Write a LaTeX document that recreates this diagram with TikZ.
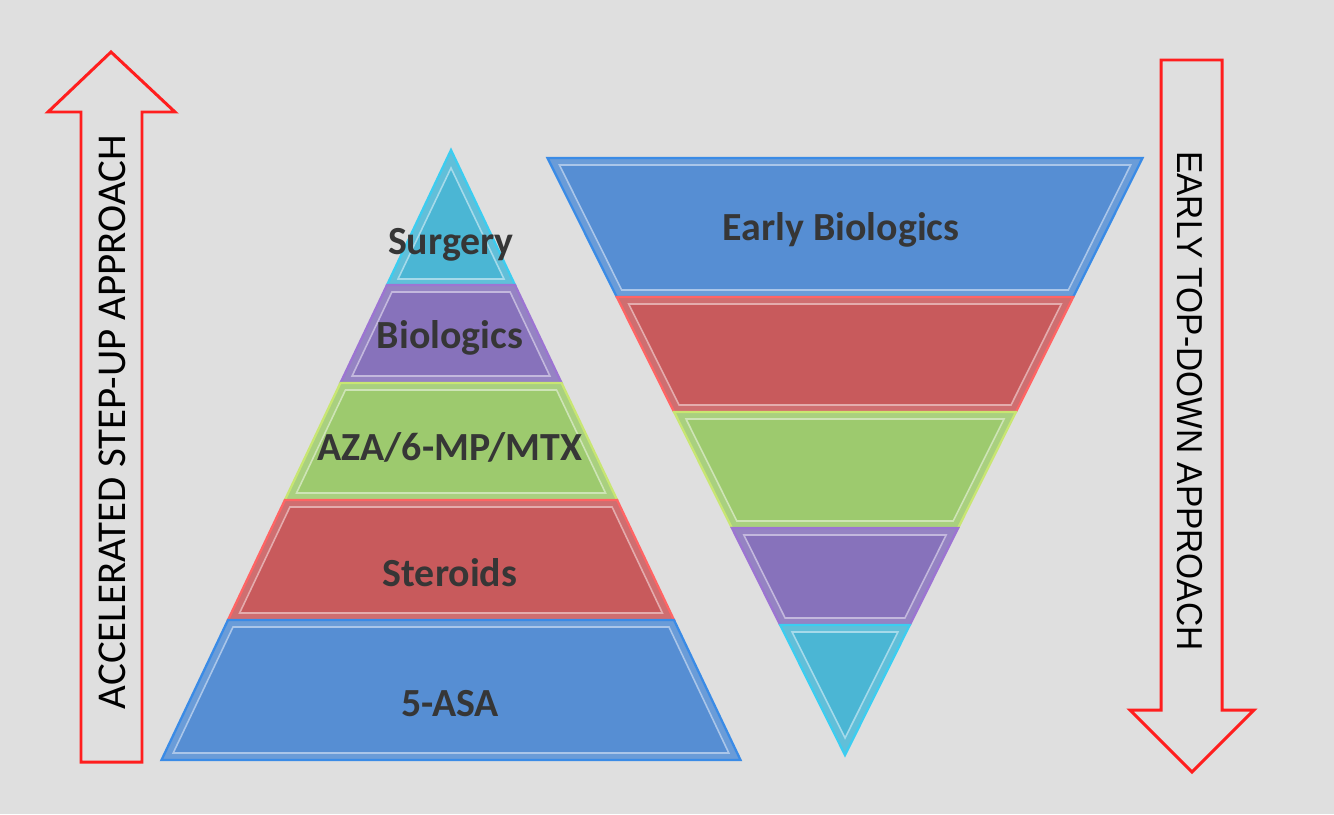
\documentclass[tikz,border=0pt]{standalone}
\usepackage{fontspec}
\setmainfont{Carlito}
\newfontfamily\narrowfont{Liberation Sans}
\usepackage{tikz}

\definecolor{bgcol}{HTML}{DFDFDF}
\definecolor{arrowred}{HTML}{FF1E1E}
\definecolor{txtgrey}{HTML}{363636}
\definecolor{asablue}{HTML}{568ED3}
\definecolor{asaedge}{HTML}{3A8BE6}
\definecolor{sterred}{HTML}{C85A5C}
\definecolor{steredge}{HTML}{FF6464}
\definecolor{azagreen}{HTML}{9DCA6E}
\definecolor{azaedge}{HTML}{C8E672}
\definecolor{biopurple}{HTML}{8772BB}
\definecolor{bioedge}{HTML}{9C74D2}
\definecolor{surgcyan}{HTML}{4BB6D4}
\definecolor{surgedge}{HTML}{3CCDF0}

\tikzset{
  layer/.style 2 args={fill=#1!88!white, draw=#2, line width=1.3pt, line join=miter},
  core/.style={fill=#1, draw=#1!50!white, line width=0.9pt},
  bigarrow/.style={draw=arrowred, line width=1.7pt, line join=miter},
  lbl/.style={text=txtgrey, font=\fontsize{22.7}{26}\selectfont\bfseries, inner sep=0pt},
  arrowlbl/.style={text=black, inner sep=0pt}
}

\begin{document}
\begin{tikzpicture}[x=0.02cm, y=-0.02cm]
  % Tlo
  \fill[bgcol] (0,0) rectangle (1334,814);
  \useasboundingbox (0,0) rectangle (1334,814);

  % Strzalka w gore (lewa)
  \draw[bigarrow] (81,762) -- (81,112) -- (48,112) -- (111,52) -- (175,112)
    -- (142,112) -- (142,762) -- cycle;
  \node[arrowlbl, rotate=90, font=\fontsize{23.3}{27}\selectfont] (stepup) at (112,422)
    {ACCELERATED STEP-UP APPROACH};

  % Strzalka w dol (prawa)
  \draw[bigarrow] (1161,60) -- (1222,60) -- (1222,710) -- (1254,710) -- (1192,772)
    -- (1130,710) -- (1161,710) -- cycle;
  \node[arrowlbl, rotate=-90] (topdown) at (1190,401)
    {\scalebox{0.93}[1]{\narrowfont\fontsize{20.5}{24}\selectfont EARLY TOP-DOWN APPROACH}};

  % Piramida (step-up)
  \draw[layer={surgcyan}{surgedge}] (451,150) -- (515,285) -- (387,285) -- cycle;
  \draw[core=surgcyan] (451,168) -- (504,279) -- (398,279) -- cycle;

  \draw[layer={biopurple}{bioedge}] (387,285) -- (515,285) -- (561.6,383) -- (340.4,383) -- cycle;
  \draw[core=biopurple] (391.9,292) -- (510.1,292) -- (549.9,376) -- (352.1,376) -- cycle;

  \draw[layer={azagreen}{azaedge}] (340.4,383) -- (561.6,383) -- (617.1,500) -- (284.9,500) -- cycle;
  \draw[core=azagreen] (345.4,390) -- (556.6,390) -- (605.5,493) -- (296.5,493) -- cycle;

  \draw[layer={sterred}{steredge}] (284.9,500) -- (617.1,500) -- (674,620) -- (228,620) -- cycle;
  \draw[core=sterred] (289.9,507) -- (612.1,507) -- (662.4,613) -- (239.6,613) -- cycle;

  \draw[layer={asablue}{asaedge}] (228,620) -- (674,620) -- (740.5,760) -- (161.5,760) -- cycle;
  \draw[core=asablue] (233,627) -- (669,627) -- (728.8,753) -- (173.2,753) -- cycle;

  \node[lbl] (surgery) at (451,245) {Surgery};
  \node[lbl] (biologics) at (450,338) {Biologics};
  \node[lbl] (aza) at (450,447) {AZA/6-MP/MTX};
  \node[lbl] (steroids) at (450,573) {Steroids};
  \node[lbl] (asa) at (450,704) {5-ASA};

  % Odwrocona piramida (top-down)
  \draw[layer={asablue}{asaedge}] (547.5,158) -- (1142.5,158) -- (1073.2,297) -- (616.8,297) -- cycle;
  \draw[core=asablue] (559.4,165) -- (1130.6,165) -- (1068.3,290) -- (621.7,290) -- cycle;

  \draw[layer={sterred}{steredge}] (616.8,297) -- (1073.2,297) -- (1015.9,412) -- (674.1,412) -- cycle;
  \draw[core=sterred] (628.7,304) -- (1061.3,304) -- (1011,405) -- (679,405) -- cycle;

  \draw[layer={azagreen}{azaedge}] (674.1,412) -- (1015.9,412) -- (958.1,528) -- (731.9,528) -- cycle;
  \draw[core=azagreen] (686,419) -- (1004,419) -- (953.2,521) -- (736.8,521) -- cycle;

  \draw[layer={biopurple}{bioedge}] (731.9,528) -- (958.1,528) -- (909.8,625) -- (780.2,625) -- cycle;
  \draw[core=biopurple] (743.8,535) -- (946.2,535) -- (904.9,618) -- (785.1,618) -- cycle;

  \draw[layer={surgcyan}{surgedge}] (780.2,625) -- (909.8,625) -- (845,755) -- cycle;
  \draw[core=surgcyan] (792.1,632) -- (897.9,632) -- (845,738) -- cycle;

  \node[lbl] (earlybio) at (841,230) {Early Biologics};
\end{tikzpicture}
\end{document}
